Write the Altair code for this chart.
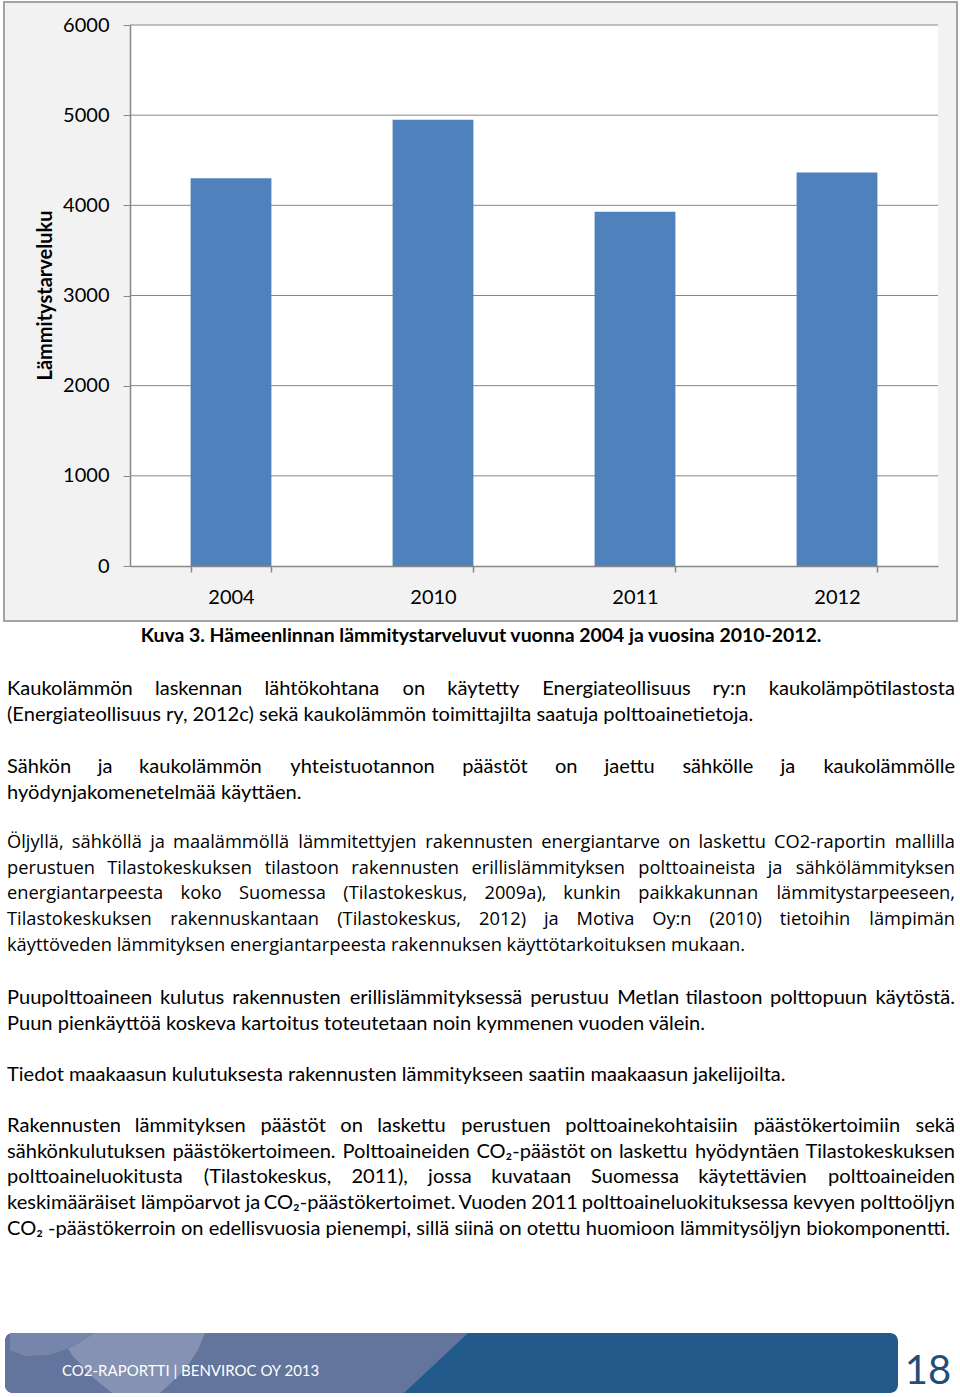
import altair as alt
import pandas as pd

# ---------------- data ----------------
years = ["2004", "2010", "2011", "2012"]
heating_degree_days = [4300, 4950, 3930, 4365]
y_ticks = [0, 1000, 2000, 3000, 4000, 5000, 6000]
y_title = "Lämmitystarveluku"
caption = "Kuva 3. Hämeenlinnan lämmitystarveluvut  vuonna 2004 ja vuosina 2010-2012."

para1 = [
    "Kaukolämmön laskennan lähtökohtana on käytetty Energiateollisuus ry:n kaukolämpötilastosta",
    "(Energiateollisuus ry, 2012c) sekä kaukolämmön toimittajilta saatuja polttoainetietoja.",
]
para2 = [
    "Sähkön ja kaukolämmön yhteistuotannon päästöt on jaettu sähkölle ja kaukolämmölle",
    "hyödynjakomenetelmää käyttäen.",
]
para3 = [
    "Öljyllä, sähköllä ja maalämmöllä lämmitettyjen rakennusten energiantarve on laskettu CO2-raportin mallilla",
    "perustuen Tilastokeskuksen tilastoon rakennusten erillislämmityksen polttoaineista ja sähkölämmityksen",
    "energiantarpeesta koko Suomessa (Tilastokeskus, 2009a), kunkin paikkakunnan lämmitystarpeeseen,",
    "Tilastokeskuksen rakennuskantaan (Tilastokeskus, 2012) ja Motiva Oy:n (2010) tietoihin lämpimän",
    "käyttöveden lämmityksen energiantarpeesta rakennuksen käyttötarkoituksen mukaan.",
]
para4 = [
    "Puupolttoaineen kulutus rakennusten erillislämmityksessä perustuu Metlan tilastoon polttopuun käytöstä.",
    "Puun pienkäyttöä koskeva kartoitus toteutetaan noin kymmenen vuoden välein.",
]
para5 = [
    "Tiedot maakaasun kulutuksesta rakennusten lämmitykseen saatiin maakaasun jakelijoilta.",
]
para6 = [
    "Rakennusten lämmityksen päästöt on laskettu perustuen polttoainekohtaisiin päästökertoimiin sekä",
    "sähkönkulutuksen päästökertoimeen. Polttoaineiden CO₂-päästöt on laskettu hyödyntäen Tilastokeskuksen",
    "polttoaineluokitusta (Tilastokeskus, 2011), jossa kuvataan Suomessa käytettävien polttoaineiden",
    "keskimääräiset lämpöarvot ja CO₂-päästökertoimet. Vuoden 2011 polttoaineluokituksessa kevyen polttoöljyn",
    "CO₂ -päästökerroin on edellisvuosia pienempi, sillä siinä on otettu huomioon lämmitysöljyn biokomponentti.",
]
footer_text = "CO2-RAPORTTI | BENVIROC OY 2013"
page_number = "18"

# ---------------- layout / style ----------------
W, H = 960, 1397
PLOT_L, PLOT_R, PLOT_T, PLOT_B = 130, 938, 25, 566
LEFT, RIGHT = 7, 955
LH = 25.7
GRAY = "#878787"

LATO = dict(a=.49, b=.56, c=.46, d=.56, e=.52, f=.33, g=.50, h=.56, i=.235, j=.235, k=.51, l=.235,
            m=.85, n=.56, o=.57, p=.555, q=.555, r=.39, s=.43, t=.37, u=.56, v=.50, w=.75, x=.49,
            y=.50, z=.45)
LATO.update({"ä": .49, "ö": .57, " ": .193, ".": .2, ",": .2, ":": .2, "(": .3, ")": .3, "-": .33,
             "|": .23, "₂": .35, "K": .58, "E": .53, "S": .49, "T": .56, "P": .56, "M": .85, "R": .58,
             "V": .66, "C": .64, "O": .75, "H": .72, "L": .47, "Y": .6, "N": .72, "B": .6, "I": .27,
             "A": .66, "Ö": .75})
for dgt in "0123456789":
    LATO[dgt] = .58

OPEN = dict(a=.556, b=.613, c=.48, d=.613, e=.561, f=.336, g=.547, h=.618, i=.258, j=.258, k=.529,
            l=.258, m=.941, n=.618, o=.602, p=.613, q=.613, r=.408, s=.477, t=.353, u=.618, v=.5,
            w=.775, x=.514, y=.5, z=.469)
OPEN.update({"ä": .556, "ö": .602, " ": .26, ".": .268, ",": .245, ":": .268, "(": .296, ")": .296,
             "-": .322, "O": .779, "C": .632, "T": .556, "M": .905, "S": .549, "K": .6, "E": .556,
             "Ö": .779})
for dgt in "0123456789":
    OPEN[dgt] = .572


def est(s, table):
    return sum(table.get(ch, 0.5) for ch in s)


# font sizes calibrated against natural (non-justified) line lengths in the page
lato_refs = [(para1[1], 765), (para5[0], 765), (para4[1], 685), (para2[1], 292), (para6[4], 925)]
LATO_FS = sum(t / est(s, LATO) for s, t in lato_refs) / len(lato_refs)
OPEN_FS = 741 / est(para3[4], OPEN)
CAP_FS = 688 / (est(caption, LATO) * 1.035)


def layout(paragraphs, table, fs):
    rows = []
    for y0, lines in paragraphs:
        for i, line in enumerate(lines):
            y = y0 + i * LH
            if i == len(lines) - 1:
                rows.append(dict(t=line, x=LEFT, y=y, a="left"))
                continue
            words = line.split(" ")
            ws = [est(w, table) * fs for w in words]
            gap = (RIGHT - LEFT - sum(ws)) / (len(words) - 1)
            x = LEFT
            for j, (wd, wl) in enumerate(zip(words, ws)):
                if j == len(words) - 1:
                    rows.append(dict(t=wd, x=RIGHT, y=y, a="right"))
                else:
                    rows.append(dict(t=wd, x=x, y=y, a="left"))
                x += wl + gap
    return pd.DataFrame(rows)


lato_df = layout([(689, para1), (767, para2), (998, para4), (1075, para5), (1126, para6)], LATO, LATO_FS)
open_df = layout([(843, para3)], OPEN, OPEN_FS)

one = pd.DataFrame({"k": [0]})

# ---------------- chart layers ----------------
frame = alt.Chart(one).mark_rect(fill="#F2F2F2", stroke="#A3A3A3", strokeWidth=2).encode(
    x=alt.value(4), x2=alt.value(957), y=alt.value(2), y2=alt.value(621))
plot_bg = alt.Chart(one).mark_rect(fill="white").encode(
    x=alt.value(PLOT_L), x2=alt.value(PLOT_R), y=alt.value(PLOT_T), y2=alt.value(PLOT_B))

y_scale = alt.Scale(domain=[0, 6000], range=[PLOT_B, PLOT_T])
grid = alt.Chart(pd.DataFrame({"v": y_ticks[1:]})).mark_rule(color=GRAY, strokeWidth=1).encode(
    y=alt.Y("v:Q", scale=y_scale, axis=None), x=alt.value(PLOT_L), x2=alt.value(PLOT_R))

bars = alt.Chart(pd.DataFrame({"year": years, "value": heating_degree_days})).mark_bar(
    color="#4F81BD").encode(
    x=alt.X("year:N", sort=years,
            scale=alt.Scale(range=[PLOT_L, PLOT_R], paddingInner=0.6, paddingOuter=0.3),
            axis=alt.Axis(title=None, offset=-(H - PLOT_B), tickBand="extent", tickSize=6,
                          tickColor=GRAY, domainColor=GRAY, domainWidth=1.5, tickWidth=1.5,
                          labelAngle=0, zindex=2,
                          labelFont="Lato", labelFontSize=20, labelColor="black", labelPadding=15)),
    y=alt.Y("value:Q", scale=y_scale,
            axis=alt.Axis(title=None, values=y_ticks, offset=-PLOT_L, grid=False, tickSize=7,
                          tickColor=GRAY, domainColor=GRAY, domainWidth=1.5, format="d", zindex=2,
                          labelFont="Lato", labelFontSize=20, labelColor="black", labelPadding=14)),
)

ytitle = alt.Chart(one).mark_text(text=y_title, angle=270, font="Lato", fontWeight="bold",
                                  fontSize=20, align="center", baseline="middle", color="black").encode(
    x=alt.value(46), y=alt.value((PLOT_T + PLOT_B) / 2))

cap = alt.Chart(one).mark_text(text=caption, font="Lato", fontWeight="bold", fontSize=CAP_FS,
                               align="center", baseline="middle", color="black").encode(
    x=alt.value(481), y=alt.value(636))


def text_layer(df, align, font, fs):
    d = df[df["a"] == align]
    return alt.Chart(d).mark_text(font=font, fontSize=fs, align=align, baseline="middle",
                                  color="black").encode(
        x=alt.X("x:Q", scale=None, axis=None), y=alt.Y("y:Q", scale=None, axis=None), text="t:N")


texts = [text_layer(lato_df, "left", "Lato", LATO_FS), text_layer(lato_df, "right", "Lato", LATO_FS),
         text_layer(open_df, "left", "Open Sans", OPEN_FS), text_layer(open_df, "right", "Open Sans", OPEN_FS)]

# footer banner
FT, FB = 1333, 1393
banner = alt.Chart(one).mark_rect(fill="#235A8C", cornerRadius=8).encode(
    x=alt.value(5), x2=alt.value(898), y=alt.value(FT), y2=alt.value(FB))
slate = alt.Chart(one).mark_rect(fill="#63759C", cornerRadius=8).encode(
    x=alt.value(5), x2=alt.value(404), y=alt.value(FT), y2=alt.value(FB))
slant = alt.Chart(pd.DataFrame({"x": [396, 404, 468], "y": [FT, FT, FT], "y2": [FB, FB, FT]})).mark_area(
    color="#63759C", orient="vertical").encode(
    x=alt.X("x:Q", scale=None, axis=None), y=alt.Y("y:Q", scale=None, axis=None), y2="y2:Q")
lens = alt.Chart(pd.DataFrame({"x": [58, 72, 90, 112, 160, 185, 198, 205],
                               "y": [FT] * 8,
                               "y2": [FT, 1355, 1375, FB, FB, 1370, 1350, FT]})).mark_area(
    color="#8592B3", orient="vertical").encode(
    x=alt.X("x:Q", scale=None, axis=None), y=alt.Y("y:Q", scale=None, axis=None), y2="y2:Q")
corner = alt.Chart(pd.DataFrame({"x": [10, 25, 50, 75, 95], "y": [FT] * 5,
                                 "y2": [1350, 1356, 1355, 1346, FT]})).mark_area(
    color="#7686AB", orient="vertical").encode(
    x=alt.X("x:Q", scale=None, axis=None), y=alt.Y("y:Q", scale=None, axis=None), y2="y2:Q")
ftext = alt.Chart(one).mark_text(text=footer_text, font="Lato", fontSize=15, align="left",
                                 baseline="middle", color="white").encode(
    x=alt.value(62), y=alt.value(1371))
pnum = alt.Chart(one).mark_text(text=page_number, font="Lato", fontSize=40, align="center",
                                baseline="middle", color="#1F4E79").encode(
    x=alt.value(928), y=alt.value(1372))

chart = alt.layer(frame, plot_bg, grid, bars, ytitle, cap, *texts,
                  banner, slate, slant, lens, corner, ftext, pnum).resolve_scale(
    x="independent", y="independent").properties(
    width=W, height=H, autosize=alt.AutoSizeParams(type="none"), padding=0,
    background="white").configure_view(stroke=None)

chart.save("out.html", embed_options={"renderer": "svg", "actions": False})
